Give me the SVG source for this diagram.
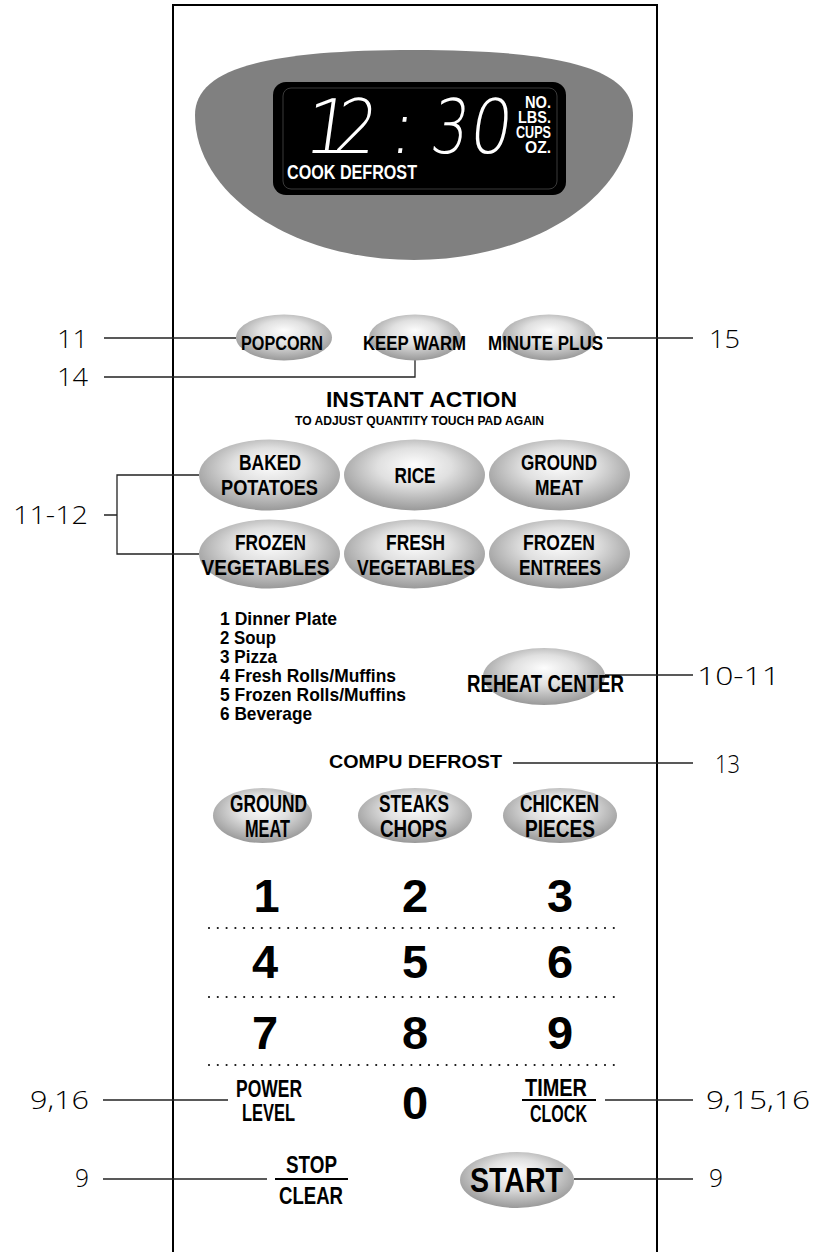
<svg xmlns="http://www.w3.org/2000/svg" width="814" height="1252" viewBox="0 0 814 1252">
<defs>
<radialGradient id="g" cx="50%" cy="42%" r="58%" fx="50%" fy="35%">
<stop offset="0" stop-color="#fdfdfd"/>
<stop offset="0.45" stop-color="#e0e0e0"/>
<stop offset="1" stop-color="#999"/>
</radialGradient>
<style>
.btn{fill:url(#g)}
.b{font-family:"Liberation Sans",Arial,sans-serif;font-weight:bold;text-anchor:middle;fill:#000}
.lbl{font-family:"Open Sans","DejaVu Sans",sans-serif;font-weight:300;font-size:26px;fill:#000}
.ln{stroke:#222;stroke-width:1.3;fill:none}
.dot{stroke:#111;stroke-width:2.2;stroke-linecap:round;stroke-dasharray:0 8.8;fill:none}
.seg{font-family:"DejaVu Sans",sans-serif;font-weight:200;font-size:75px;fill:#fff;text-anchor:middle}
.disp{font-family:"Liberation Sans",Arial,sans-serif;font-weight:bold;fill:#fff}
.num{font-family:"Liberation Sans",Arial,sans-serif;font-weight:bold;font-size:47px;text-anchor:middle;fill:#000}
</style>
</defs>
<rect width="814" height="1252" fill="#fff"/>

<g id="panel">
<path d="M173,1252 V5 H657 V1252" fill="none" stroke="#000" stroke-width="2"/>
</g>

<g id="display">
<path d="M195,115 C195,70 261,50 414,50 C567,50 633,70 633,115 C633,195 535,260 414,260 C293,260 195,195 195,115 Z" fill="#808080"/>
<rect x="273" y="82" width="293" height="113" rx="13" fill="#000"/>
<rect x="283" y="88" width="274" height="101" rx="8" fill="none" stroke="#3a3a3a" stroke-width="1"/>
<text class="seg" transform="translate(325,153) skewX(-8)">1</text>
<text class="seg" transform="translate(353,153) skewX(-8)" textLength="42" lengthAdjust="spacingAndGlyphs">2</text>
<text class="seg" transform="translate(400,153) skewX(-8)">:</text>
<text class="seg" transform="translate(447,153) skewX(-8)" textLength="37" lengthAdjust="spacingAndGlyphs">3</text>
<text class="seg" transform="translate(488,153) skewX(-8)" textLength="42" lengthAdjust="spacingAndGlyphs">0</text>
<g class="disp" font-size="16" text-anchor="end">
<text x="551" y="108" textLength="26" lengthAdjust="spacingAndGlyphs">NO.</text>
<text x="551" y="123" textLength="33" lengthAdjust="spacingAndGlyphs">LBS.</text>
<text x="551" y="138" textLength="35" lengthAdjust="spacingAndGlyphs">CUPS</text>
<text x="551" y="153" textLength="26" lengthAdjust="spacingAndGlyphs">OZ.</text>
</g>
<text class="disp" x="287" y="179" font-size="20" textLength="130" lengthAdjust="spacingAndGlyphs">COOK DEFROST</text>
</g>

<g id="connectors">
<path class="ln" d="M104,338 H236"/>
<path class="ln" d="M104,377 H415 V360"/>
<path class="ln" d="M607,338 H693"/>
<path class="ln" d="M104,515 H117 M199,475 H117 V554 H199"/>
<path class="ln" d="M605,675 H693"/>
<path class="ln" d="M513,763 H693"/>
<path class="ln" d="M103,1100 H228"/>
<path class="ln" d="M605,1100 H693"/>
<path class="ln" d="M103,1179 H267"/>
<path class="ln" d="M574,1179 H693"/>
</g>

<g id="labels">
<text class="lbl" x="57" y="348" textLength="31" lengthAdjust="spacingAndGlyphs">11</text>
<text class="lbl" x="57" y="386" textLength="31" lengthAdjust="spacingAndGlyphs">14</text>
<text class="lbl" x="709" y="348" textLength="31" lengthAdjust="spacingAndGlyphs">15</text>
<text class="lbl" x="13" y="524" textLength="75" lengthAdjust="spacingAndGlyphs">11-12</text>
<text class="lbl" x="697" y="685" textLength="83" lengthAdjust="spacingAndGlyphs">10-11</text>
<text class="lbl" x="715" y="773" textLength="25" lengthAdjust="spacingAndGlyphs">13</text>
<text class="lbl" x="30" y="1109" textLength="59" lengthAdjust="spacingAndGlyphs">9,16</text>
<text class="lbl" x="706" y="1109" textLength="104" lengthAdjust="spacingAndGlyphs">9,15,16</text>
<text class="lbl" x="75" y="1187" textLength="14" lengthAdjust="spacingAndGlyphs">9</text>
<text class="lbl" x="709" y="1187" textLength="14" lengthAdjust="spacingAndGlyphs">9</text>
</g>

<g id="popcorn">
<ellipse class="btn" cx="284" cy="337.5" rx="48" ry="23"/>
<text class="b" x="282" y="350" font-size="21" textLength="82" lengthAdjust="spacingAndGlyphs">POPCORN</text>
</g>
<g id="keep-warm">
<ellipse class="btn" cx="415" cy="337.5" rx="46" ry="23"/>
<text class="b" x="414.5" y="350" font-size="21" textLength="103" lengthAdjust="spacingAndGlyphs">KEEP WARM</text>
</g>
<g id="minute-plus">
<ellipse class="btn" cx="549" cy="337.5" rx="47" ry="23"/>
<text class="b" x="545.5" y="350" font-size="21" textLength="115" lengthAdjust="spacingAndGlyphs">MINUTE PLUS</text>
</g>

<g id="instant-action">
<text class="b" x="421.5" y="407" font-size="22" textLength="191" lengthAdjust="spacingAndGlyphs">INSTANT ACTION</text>
<text class="b" x="419.5" y="425" font-size="12" textLength="249" lengthAdjust="spacingAndGlyphs">TO ADJUST QUANTITY  TOUCH PAD AGAIN</text>
</g>

<g id="baked-potatoes">
<ellipse class="btn" cx="269.5" cy="475" rx="70.5" ry="35.5"/>
<text class="b" x="270" y="470" font-size="22" textLength="62" lengthAdjust="spacingAndGlyphs">BAKED</text>
<text class="b" x="269.5" y="495" font-size="22" textLength="97" lengthAdjust="spacingAndGlyphs">POTATOES</text>
</g>
<g id="rice">
<ellipse class="btn" cx="414.5" cy="475" rx="70.5" ry="35.5"/>
<text class="b" x="415" y="483" font-size="22" textLength="41" lengthAdjust="spacingAndGlyphs">RICE</text>
</g>
<g id="ground-meat-ia">
<ellipse class="btn" cx="559.5" cy="475" rx="70.5" ry="35.5"/>
<text class="b" x="559" y="470" font-size="22" textLength="76" lengthAdjust="spacingAndGlyphs">GROUND</text>
<text class="b" x="559" y="495" font-size="22" textLength="48" lengthAdjust="spacingAndGlyphs">MEAT</text>
</g>
<g id="frozen-vegetables">
<ellipse class="btn" cx="269.5" cy="554" rx="70.5" ry="34.5"/>
<text class="b" x="270.5" y="550" font-size="22" textLength="71" lengthAdjust="spacingAndGlyphs">FROZEN</text>
<text class="b" x="265.5" y="575" font-size="22" textLength="128" lengthAdjust="spacingAndGlyphs">VEGETABLES</text>
</g>
<g id="fresh-vegetables">
<ellipse class="btn" cx="414.5" cy="554" rx="70.5" ry="34.5"/>
<text class="b" x="415.5" y="550" font-size="22" textLength="59" lengthAdjust="spacingAndGlyphs">FRESH</text>
<text class="b" x="416" y="575" font-size="22" textLength="118" lengthAdjust="spacingAndGlyphs">VEGETABLES</text>
</g>
<g id="frozen-entrees">
<ellipse class="btn" cx="559.5" cy="554" rx="70.5" ry="34.5"/>
<text class="b" x="559" y="550" font-size="22" textLength="72" lengthAdjust="spacingAndGlyphs">FROZEN</text>
<text class="b" x="560" y="575" font-size="22" textLength="82" lengthAdjust="spacingAndGlyphs">ENTREES</text>
</g>

<g id="reheat-list" font-family="Liberation Sans, Arial, sans-serif" font-weight="bold" font-size="19">
<text x="220" y="625" textLength="117" lengthAdjust="spacingAndGlyphs">1 Dinner Plate</text>
<text x="220" y="644" textLength="56" lengthAdjust="spacingAndGlyphs">2 Soup</text>
<text x="220" y="663" textLength="57" lengthAdjust="spacingAndGlyphs">3 Pizza</text>
<text x="220" y="682" textLength="176" lengthAdjust="spacingAndGlyphs">4 Fresh Rolls/Muffins</text>
<text x="220" y="701" textLength="186" lengthAdjust="spacingAndGlyphs">5 Frozen Rolls/Muffins</text>
<text x="220" y="720" textLength="92" lengthAdjust="spacingAndGlyphs">6 Beverage</text>
</g>
<g id="reheat-center">
<ellipse class="btn" cx="544" cy="676.5" rx="61" ry="28.5"/>
<text class="b" x="545.5" y="692" font-size="23" textLength="157" lengthAdjust="spacingAndGlyphs">REHEAT CENTER</text>
</g>

<g id="compu-defrost">
<text class="b" x="415.5" y="768" font-size="19" textLength="173" lengthAdjust="spacingAndGlyphs">COMPU DEFROST</text>
</g>
<g id="ground-meat-cd">
<ellipse class="btn" cx="262.5" cy="815.5" rx="49.5" ry="27.5"/>
<text class="b" x="268.5" y="812" font-size="23" textLength="77" lengthAdjust="spacingAndGlyphs">GROUND</text>
<text class="b" x="267.5" y="837" font-size="23" textLength="45" lengthAdjust="spacingAndGlyphs">MEAT</text>
</g>
<g id="steaks-chops">
<ellipse class="btn" cx="415" cy="815.5" rx="57" ry="27.5"/>
<text class="b" x="414" y="812" font-size="23" textLength="70" lengthAdjust="spacingAndGlyphs">STEAKS</text>
<text class="b" x="413.5" y="837" font-size="23" textLength="67" lengthAdjust="spacingAndGlyphs">CHOPS</text>
</g>
<g id="chicken-pieces">
<ellipse class="btn" cx="560" cy="815.5" rx="57" ry="27.5"/>
<text class="b" x="559.5" y="812" font-size="23" textLength="79" lengthAdjust="spacingAndGlyphs">CHICKEN</text>
<text class="b" x="560" y="837" font-size="23" textLength="70" lengthAdjust="spacingAndGlyphs">PIECES</text>
</g>

<g id="keypad">
<text class="num" x="266.5" y="912">1</text>
<text class="num" x="415" y="912">2</text>
<text class="num" x="560" y="912">3</text>
<path class="dot" d="M209,928 H622"/>
<text class="num" x="265" y="978">4</text>
<text class="num" x="415" y="978">5</text>
<text class="num" x="560" y="978">6</text>
<path class="dot" d="M209,997 H622"/>
<text class="num" x="265" y="1049">7</text>
<text class="num" x="415" y="1049">8</text>
<text class="num" x="560" y="1049">9</text>
<path class="dot" d="M209,1065 H622"/>
<text class="num" x="415" y="1119">0</text>
</g>

<g id="power-level">
<text class="b" x="269" y="1097" font-size="23" textLength="66" lengthAdjust="spacingAndGlyphs">POWER</text>
<text class="b" x="268.5" y="1121" font-size="23" textLength="53" lengthAdjust="spacingAndGlyphs">LEVEL</text>
</g>
<g id="timer-clock">
<text class="b" x="556" y="1096" font-size="23" textLength="62" lengthAdjust="spacingAndGlyphs">TIMER</text>
<path d="M522,1100 H596" stroke="#000" stroke-width="2"/>
<text class="b" x="558.5" y="1122" font-size="23" textLength="57" lengthAdjust="spacingAndGlyphs">CLOCK</text>
</g>
<g id="stop-clear">
<text class="b" x="311.5" y="1173" font-size="23" textLength="51" lengthAdjust="spacingAndGlyphs">STOP</text>
<path d="M275,1179 H348" stroke="#000" stroke-width="2"/>
<text class="b" x="311" y="1204" font-size="23" textLength="64" lengthAdjust="spacingAndGlyphs">CLEAR</text>
</g>
<g id="start">
<ellipse class="btn" cx="517" cy="1180" rx="57" ry="28"/>
<text class="b" x="516.5" y="1192" font-size="35" textLength="93" lengthAdjust="spacingAndGlyphs">START</text>
</g>
</svg>
